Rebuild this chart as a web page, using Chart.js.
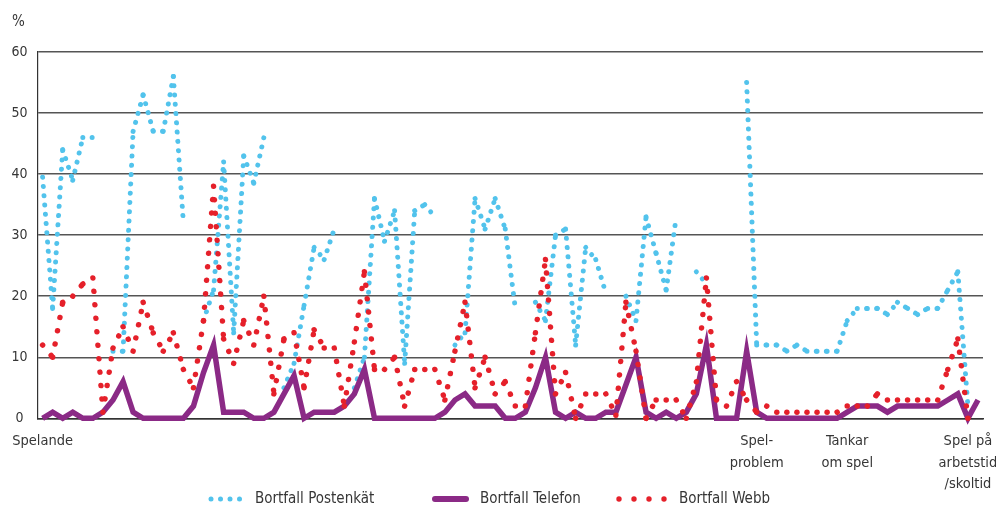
<!DOCTYPE html>
<html>
<head>
<meta charset="utf-8">
<script src="https://cdn.jsdelivr.net/npm/chart.js@4.4.1/dist/chart.umd.min.js"></script>
<style>
	html, body { margin: 0; padding: 0; background: #fff; }
</style>
</head>
<body>
<canvas id="bortfall_chart" width="996" height="507"></canvas>
<script>
// Bortfall per fråga - one point per question in the survey
//===========================================

// category labels (most questions have no label under them)
const labelIndex = [0, 71, 80, 92];
const labelText = [
	'Spelande',
	['Spel-', 'problem'],
	['Tankar', 'om spel'],
	['Spel på', 'arbetstid', '/skoltid']
];

// series values, %
const postenkat = [
	39.5, 18, 44, 39, 46, 46, null, 11, 11, 47,
	53, 47, 47, 56, 32, null, 16, 21, 42, 14,
	43, 38.5, 46, null, 5, 9, 18.5, 28, 26, 31,
	null, 5, 10, 36, 29, 34, 9, 34, 35, 33,
	null, 12, 14, 36, 31, 36, 31, 18, null, 19,
	16, 30, 31, 12, 28, 26, 20.5, null, 20, 16,
	33, 27, 21, 33, null, 24, 22, null, null, null,
	55, 12, 12, 12, 11, 12, 11, 11, 11, 11,
	16, 18, 18, 18, 17, 19, 18, 17, 18, 18,
	21, 24, 2, null
];
const telefon = [
	0, 1, 0, 1, 0, 0, 1, 3, 6, 1,
	0, 0, 0, 0, 0, 2, 7.5, 12, 1, 1,
	1, 0, 0, 1, 4, 7, 0, 1, 1, 1,
	2, 4, 8, 0, 0, 0, 0, 0, 0, 0,
	1, 3, 4, 2, 2, 2, 0, 0, 1, 5,
	10, 1, 0, 1, 0, 0, 1, 1, 5.5, 10,
	1, 0, 1, 0, 1, 4, 12, 0, 0, 0,
	11, 1, 0, 0, 0, 0, 0, 0, 0, 0,
	1, 2, 2, 2, 1, 2, 2, 2, 2, 2,
	3, 4, 0, 3
];
const webb = [
	12, 10, 19, 20, 22, 23, 1, 11.5, 15, 11,
	19, 14, 11, 14, 8, 5, 16, 38, 13, 9,
	16, 12, 20, 4, 13, 14, 5, 14.5, 11.5, 11.5,
	2, 12.5, 24, 8, 8, 10, 2, 8, 8, 8,
	3, 11, 19, 5, 10, 4, 6, 2, 2, 14,
	26, 4, 7.5, 0, 4, 4, 4, 0.5, 19, 11,
	0, 3, 3, 3, 0, 6, 23, 3, 2, 6,
	3, 1, 2, 1, 1, 1, 1, 1, 1, 1,
	2, 2, 2, 4, 3, 3, 3, 3, 3, 3,
	8, 13, 0, 0
];

const seriesNames = ['Bortfall Postenkät', 'Bortfall Telefon', 'Bortfall Webb'];

// build the label list, blank for questions without text
const categories = postenkat.map((_, i) => {
	let pos = labelIndex.indexOf(i);
	return pos > -1 ? labelText[pos] : '';
});

const fontFamily = "'DejaVu Sans Condensed', 'Liberation Sans Narrow', 'Liberation Sans', sans-serif";
const textColor = '#363636';
const blue = '#52c3ec',
	  purple = '#8b2a86',
	  red = '#e5202a';

// every segment gets its own path so the dot pattern restarts at each point (like the original)
const restartDash = (context) => context.p0DataIndex % 2 ? 0.0001 : 0;

// legend + % sign drawn by hand so the samples look like the lines
const extras = {
	id: 'extras',
	afterDraw(chart) {
		const ctx = chart.ctx;
		ctx.save();
		ctx.fillStyle = textColor;
		ctx.font = `15px ${fontFamily}`;
		ctx.textAlign = 'left';
		ctx.textBaseline = 'middle';
		ctx.fillText('%', 12, 22);

		let y = 499;
		// blue dots
		ctx.fillStyle = blue;
		[211, 220.5, 230, 239.5].forEach((x) => {
			ctx.beginPath(); ctx.arc(x, y, 2.5, 0, Math.PI * 2); ctx.fill();
		});
		// purple line
		ctx.strokeStyle = purple;
		ctx.lineWidth = 6;
		ctx.lineCap = 'round';
		ctx.beginPath(); ctx.moveTo(435, y); ctx.lineTo(466, y); ctx.stroke();
		// red dots
		ctx.fillStyle = red;
		[619, 634, 649, 664].forEach((x) => {
			ctx.beginPath(); ctx.arc(x, y, 2.7, 0, Math.PI * 2); ctx.fill();
		});
		ctx.fillStyle = textColor;
		ctx.fillText(seriesNames[0], 255, y);
		ctx.fillText(seriesNames[1], 480, y);
		ctx.fillText(seriesNames[2], 679, y);
		ctx.restore();
	}
};

const ctx = document.getElementById('bortfall_chart');
new Chart(ctx, {
	type: 'line',
	data: {
		labels: categories,
		datasets: [
			{ // postenkät, light blue dotted
				label: seriesNames[0],
				data: postenkat,
				borderColor: blue,
				borderWidth: 5,
				borderCapStyle: 'round',
				borderJoinStyle: 'round',
				borderDash: [0.001, 9.3],
				segment: { borderDashOffset: restartDash },
				pointRadius: 0,
				order: 3,
				clip: 10
			},{ // telefon, solid purple
				label: seriesNames[1],
				data: telefon,
				borderColor: purple,
				borderWidth: 5.5,
				borderJoinStyle: 'miter',
				pointRadius: 0,
				order: 2,
				clip: 10
			},{ // webb, red round dots
				label: seriesNames[2],
				data: webb,
				borderColor: red,
				borderWidth: 5.5,
				borderCapStyle: 'round',
				borderDash: [0.001, 13.5],
				segment: { borderDashOffset: restartDash },
				pointRadius: 0,
				order: 1,
				clip: 10
			}
		]
	},
	options: {
		responsive: false,
		animation: false,
		devicePixelRatio: 1,
		layout: {
			padding: { top: 52, right: 13, bottom: 0, left: 0 }
		},
		scales: {
			x: {
				offset: true,
				grid: { display: false, drawTicks: false },
				border: { display: true, color: '#333', width: 1.6 },
				ticks: {
					autoSkip: false,
					maxRotation: 0,
					minRotation: 0,
					padding: 12,
					color: textColor,
					font: { family: fontFamily, size: 14.5, lineHeight: 1.5 }
				},
				afterFit: (axis) => { axis.height = 88.7; }
			},
			y: {
				min: 0,
				max: 60,
				grid: { color: '#555', lineWidth: 1.5, drawTicks: false },
				border: { display: true, color: '#333', width: 1.2 },
				ticks: {
					stepSize: 10,
					crossAlign: 'center',
					padding: 10,
					color: textColor,
					font: { family: fontFamily, size: 14 }
				},
				afterFit: (axis) => { axis.width = 37; }
			}
		},
		plugins: {
			legend: { display: false },
			tooltip: { enabled: false }
		}
	},
	plugins: [extras]
});
</script>
</body>
</html>
